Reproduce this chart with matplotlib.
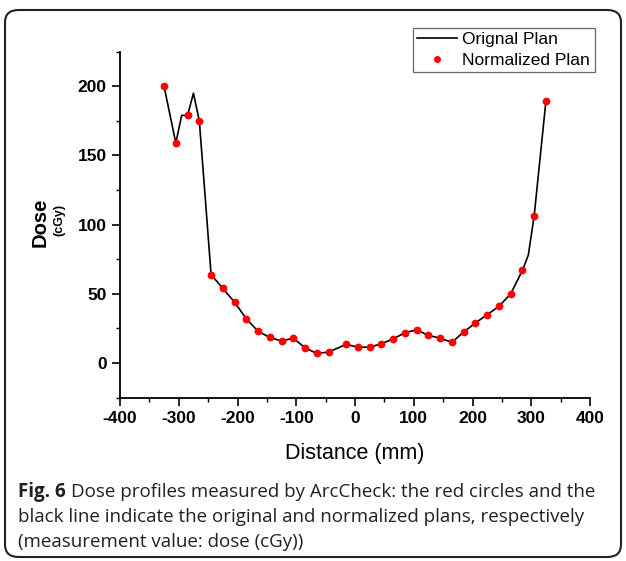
import matplotlib
matplotlib.use("Agg")
import matplotlib.pyplot as plt
from matplotlib.patches import FancyBboxPatch
from matplotlib.lines import Line2D
from matplotlib.ticker import MultipleLocator

plt.rcParams["axes.unicode_minus"] = False

# Data
point_x = [-325, -305, -285, -265, -245, -225, -205, -185, -165, -145, -125, -105,
           -85, -65, -45, -15, 5, 25, 45, 65, 85, 105, 125, 145, 165, 185, 205,
           225, 245, 265, 285, 305, 325]
point_y = [200, 159, 179, 175, 64, 54, 44, 32, 23, 18.5, 16, 18,
           11, 7, 8, 13.5, 11.5, 11.5, 14, 17.5, 22, 24, 20, 18, 15, 22.5, 29,
           35, 41, 50, 67, 106.5, 189.5]

line_x = [-325, -305, -295, -285, -275, -265, -255, -245, -225, -205, -185, -165,
          -145, -125, -105, -85, -65, -45, -15, 5, 25, 45, 65, 85, 105, 125, 145,
          165, 185, 205, 225, 245, 265, 285, 295, 305, 315, 325]
line_y = [200, 159, 179, 179, 195, 175, 120, 64, 54, 44, 32, 23,
          18.5, 16, 18, 11, 7, 8, 13.5, 11.5, 11.5, 14, 17.5, 22, 24, 20, 18,
          15, 22.5, 29, 35, 41, 50, 67, 78, 106.5, 148, 189.5]

x_ticks = [-400, -300, -200, -100, 0, 100, 200, 300, 400]
y_ticks = [0, 50, 100, 150, 200]

W, H = 626, 561
fig = plt.figure(figsize=(W / 100, H / 100), dpi=100)

# rounded border
border = FancyBboxPatch((5 / W, 4 / H), 616 / W, 547 / H,
                        boxstyle="round,pad=0,rounding_size=0.022",
                        transform=fig.transFigure, fill=False,
                        edgecolor="#222222", linewidth=1.5)
fig.patches.append(border)

ax = fig.add_axes([120 / W, 1 - 397.7 / H, 470 / W, 346 / H])
ax.plot(line_x, line_y, color="black", lw=1.2, zorder=2)
ax.plot(point_x, point_y, "o", color="#ff0000", ms=5.6, mec="none", zorder=3)

ax.set_xlim(-400, 400)
ax.set_ylim(-25, 225)
ax.set_xticks(x_ticks)
ax.set_yticks(y_ticks)
ax.xaxis.set_minor_locator(MultipleLocator(50))
ax.yaxis.set_minor_locator(MultipleLocator(25))
for s in ["top", "right"]:
    ax.spines[s].set_visible(False)
for s in ["left", "bottom"]:
    ax.spines[s].set_linewidth(1.3)
ax.tick_params(which="major", direction="out", length=5.5, width=1.2, pad=4)
ax.tick_params(which="minor", direction="out", length=3, width=1.0)
for lab in ax.get_xticklabels() + ax.get_yticklabels():
    lab.set_fontfamily("Liberation Sans")
    lab.set_fontweight("bold")
    lab.set_fontsize(12.5)

ax.set_xlabel("Distance (mm)", fontfamily="Liberation Sans", fontsize=15.5, labelpad=12)
fig.text(40 / W, 1 - 222 / H, "Dose", rotation=90, ha="center", va="center",
         fontfamily="Liberation Sans", fontweight="bold", fontsize=14.5)
fig.text(59 / W, 1 - 220 / H, "(cGy)", rotation=90, ha="center", va="center",
         fontfamily="Liberation Sans", fontweight="bold", fontsize=9)

handles = [Line2D([], [], color="black", lw=1.2),
           Line2D([], [], marker="o", ls="none", color="#ff0000", ms=5, mec="none")]
leg = fig.legend(handles, ["Orignal Plan", "Normalized Plan"],
                 loc="upper left", bbox_to_anchor=(413 / W, 1 - 28 / H),
                 frameon=True, fancybox=False, edgecolor="#444444",
                 prop={"family": "Liberation Sans", "size": 12.5},
                 handlelength=2.3, handletextpad=0.3, borderpad=0.25,
                 labelspacing=0.3, borderaxespad=0)
leg.get_frame().set_linewidth(0.9)

cap_kw = dict(fontfamily="Open Sans", fontsize=13.5, color="#231f20", va="baseline")
t = fig.text(18 / W, 1 - 497 / H, "Fig. 6", fontweight="bold", **cap_kw)
fig.canvas.draw()
bb = t.get_window_extent()
fig.text(bb.x1 / W + 5 / W, 1 - 497 / H,
         "Dose profiles measured by ArcCheck: the red circles and the", **cap_kw)
fig.text(18 / W, 1 - 522 / H,
         "black line indicate the original and normalized plans, respectively", **cap_kw)
fig.text(18 / W, 1 - 547 / H, "(measurement value: dose (cGy))", **cap_kw)

fig.savefig("out.png", dpi=100)
